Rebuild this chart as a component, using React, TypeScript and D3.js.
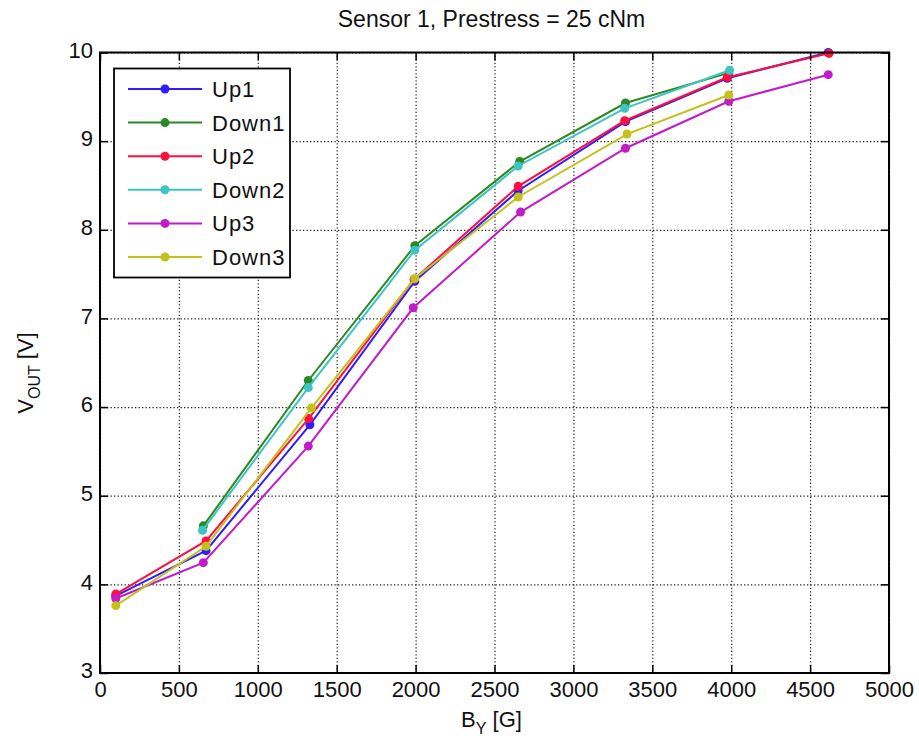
import * as d3 from "d3";
import React, { useEffect, useRef } from "react";

// series data
const seriesNames = ["Up1", "Down1", "Up2", "Down2", "Up3", "Down3"];
const seriesColors = ["#2f1cff", "#2a8a22", "#ff0f3c", "#3fc4c4", "#c21bc9", "#c2c21b"];

const up1X = [100, 672, 1330, 1995, 2650, 3330, 3975, 4615];
const up1Y = [3.87, 4.38, 5.8, 7.42, 8.44, 9.22, 9.71, 10.0];
const down1X = [655, 1320, 1995, 2660, 3330, 3985];
const down1Y = [4.66, 6.3, 7.82, 8.77, 9.43, 9.77];
const up2X = [100, 672, 1322, 1990, 2650, 3325, 3975, 4620];
const up2Y = [3.89, 4.49, 5.87, 7.44, 8.49, 9.23, 9.72, 9.99];
const down2X = [650, 1320, 1995, 2650, 3325, 3990];
const down2Y = [4.61, 6.22, 7.77, 8.72, 9.37, 9.8];
const up3X = [100, 655, 1320, 1985, 2665, 3330, 3985, 4615];
const up3Y = [3.84, 4.245, 5.56, 7.12, 8.2, 8.92, 9.45, 9.75];
const down3X = [100, 672, 1340, 1995, 2650, 3340, 3985];
const down3Y = [3.76, 4.43, 5.99, 7.45, 8.37, 9.08, 9.52];

const xTicks = [0, 500, 1000, 1500, 2000, 2500, 3000, 3500, 4000, 4500, 5000];
const yTicks = [3, 4, 5, 6, 7, 8, 9, 10];

const title = "Sensor 1, Prestress = 25 cNm";

export default function App() {
  const svgRef = useRef<SVGSVGElement>(null);

  useEffect(() => {
    const width = 919;
    const height = 742;
    const m = { left: 100, top: 52.5, right: 889, bottom: 673 };
    const font = "'Liberation Sans', Arial, sans-serif";

    const svg = d3.select(svgRef.current).attr("width", width).attr("height", height);
    svg.selectAll("*").remove();
    svg.append("rect").attr("width", width).attr("height", height).attr("fill", "#fff");

    const x = d3.scaleLinear().domain([0, 5000]).range([m.left, m.right]);
    const y = d3.scaleLinear().domain([3, 10]).range([m.bottom, m.top]);

    const xs = [up1X, down1X, up2X, down2X, up3X, down3X];
    const ys = [up1Y, down1Y, up2Y, down2Y, up3Y, down3Y];
    const series = seriesNames.map((name, i) => ({
      name,
      color: seriesColors[i],
      pts: xs[i].map((v, j) => [v, ys[i][j]] as [number, number]),
    }));

    // grid
    const gridX = svg
      .append("g")
      .attr("transform", `translate(0,${m.bottom})`)
      .call(d3.axisBottom(x).tickValues(xTicks).tickSize(-(m.bottom - m.top)).tickFormat(() => ""));
    const gridY = svg
      .append("g")
      .attr("transform", `translate(${m.left},0)`)
      .call(d3.axisLeft(y).tickValues(yTicks).tickSize(-(m.right - m.left)).tickFormat(() => ""));
    [gridX, gridY].forEach((g) => {
      g.select(".domain").remove();
      g.selectAll("line")
        .attr("stroke", "#222")
        .attr("stroke-width", 1.2)
        .attr("stroke-dasharray", "1.3,2.2");
    });

    // lines
    const line = d3
      .line<[number, number]>()
      .x((d) => x(d[0]))
      .y((d) => y(d[1]));
    series.forEach((s) => {
      svg
        .append("path")
        .attr("d", line(s.pts))
        .attr("fill", "none")
        .attr("stroke", s.color)
        .attr("stroke-width", 2);
      svg
        .append("g")
        .selectAll("circle")
        .data(s.pts)
        .join("circle")
        .attr("cx", (d) => x(d[0]))
        .attr("cy", (d) => y(d[1]))
        .attr("r", 4.5)
        .attr("fill", s.color);
    });

    // axes with inward ticks
    const tick = 8;
    const fmt = d3.format("d");
    const bottom = svg
      .append("g")
      .attr("transform", `translate(0,${m.bottom})`)
      .call(d3.axisBottom(x).tickValues(xTicks).tickSize(-tick).tickPadding(8).tickFormat(fmt));
    const left = svg
      .append("g")
      .attr("transform", `translate(${m.left},0)`)
      .call(d3.axisLeft(y).tickValues(yTicks).tickSize(-tick).tickPadding(7).tickFormat(fmt));
    const top = svg
      .append("g")
      .attr("transform", `translate(0,${m.top})`)
      .call(d3.axisTop(x).tickValues(xTicks).tickSize(-tick).tickFormat(() => ""));
    const right = svg
      .append("g")
      .attr("transform", `translate(${m.right},0)`)
      .call(d3.axisRight(y).tickValues(yTicks).tickSize(-tick).tickFormat(() => ""));
    [bottom, left, top, right].forEach((g) => {
      g.select(".domain").remove();
      g.selectAll("line").attr("stroke", "#000").attr("stroke-width", 1.5);
      g.selectAll("text").attr("font-family", font).attr("font-size", 22).attr("fill", "#111");
    });
    left.selectAll("text").attr("dy", "0.22em");

    svg
      .append("rect")
      .attr("x", m.left)
      .attr("y", m.top)
      .attr("width", m.right - m.left)
      .attr("height", m.bottom - m.top)
      .attr("fill", "none")
      .attr("stroke", "#000")
      .attr("stroke-width", 2);

    // title
    svg
      .append("text")
      .attr("x", (m.left + m.right) / 2 - 3)
      .attr("y", 27)
      .attr("text-anchor", "middle")
      .attr("font-family", font)
      .attr("font-size", 23)
      .attr("fill", "#111")
      .text(title);

    // x label
    const xl = svg
      .append("text")
      .attr("x", (m.left + m.right) / 2 - 3)
      .attr("y", 727)
      .attr("text-anchor", "middle")
      .attr("font-family", font)
      .attr("font-size", 22)
      .attr("fill", "#111");
    xl.append("tspan").text("B");
    xl.append("tspan").attr("font-size", 16).attr("dy", 7).text("Y");
    xl.append("tspan").attr("dy", -7).text(" [G]");

    // y label
    const yl = svg
      .append("text")
      .attr("transform", `translate(33,373) rotate(-90)`)
      .attr("text-anchor", "middle")
      .attr("font-family", font)
      .attr("font-size", 22)
      .attr("fill", "#111");
    yl.append("tspan").text("V");
    yl.append("tspan").attr("font-size", 16).attr("dy", 7).text("OUT");
    yl.append("tspan").attr("dy", -7).text(" [V]");

    // legend
    const lg = svg.append("g");
    lg.append("rect")
      .attr("x", 114)
      .attr("y", 68.5)
      .attr("width", 176)
      .attr("height", 209)
      .attr("fill", "#fff")
      .attr("stroke", "#000")
      .attr("stroke-width", 1.8);
    series.forEach((s, i) => {
      const ly = 89 + i * 33.6;
      lg.append("line")
        .attr("x1", 128)
        .attr("x2", 202)
        .attr("y1", ly)
        .attr("y2", ly)
        .attr("stroke", s.color)
        .attr("stroke-width", 2);
      lg.append("circle").attr("cx", 165).attr("cy", ly).attr("r", 4.5).attr("fill", s.color);
      lg.append("text")
        .attr("x", 212)
        .attr("y", ly + 8)
        .attr("font-family", font)
        .attr("font-size", 22)
        .attr("letter-spacing", 1)
        .attr("fill", "#111")
        .text(s.name);
    });
  }, []);

  return <svg ref={svgRef} style={{ position: "absolute", left: 0, top: 0, display: "block" }}></svg>;
}
